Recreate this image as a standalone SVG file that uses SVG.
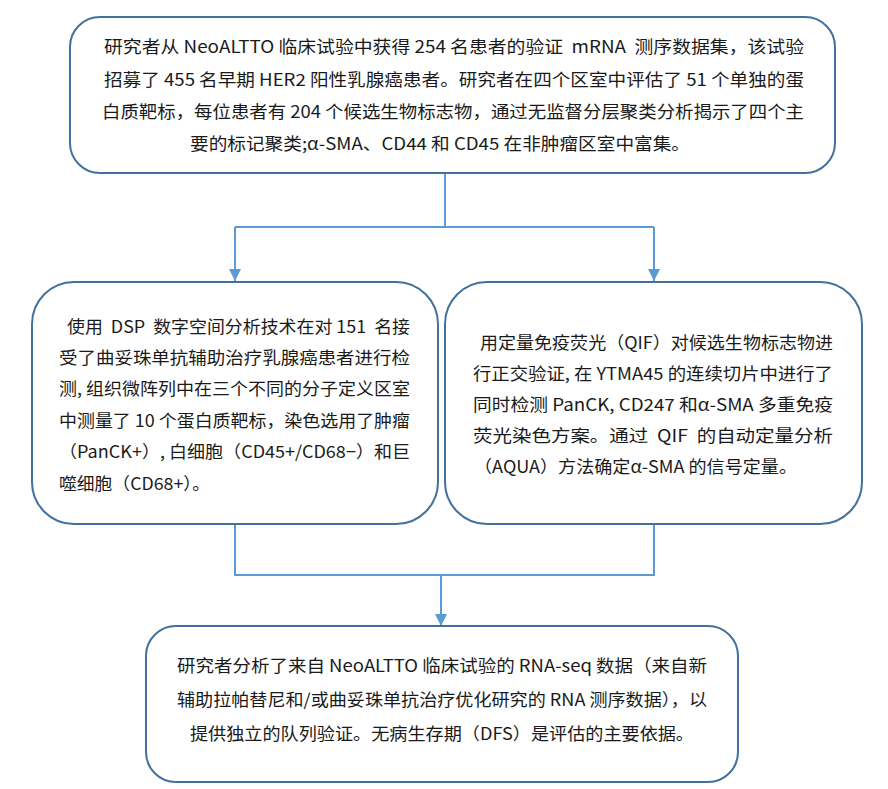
<svg xmlns="http://www.w3.org/2000/svg" width="888" height="789" viewBox="0 0 888 789">
<style>
.box{fill:#fff;stroke:#41719c;stroke-width:2}
.t{font-family:"Noto Sans CJK SC","Microsoft YaHei","Noto Sans",sans-serif;font-size:17px;fill:#1a1a1a;white-space:pre}
.c{fill:none;stroke:#5b9bd5;stroke-width:2}
</style>
<defs>
<marker id="ah" viewBox="0 0 10 10" refX="10" refY="5" markerWidth="6" markerHeight="6" orient="auto" markerUnits="strokeWidth">
<path d="M0,0 L10,5 L0,10 z" fill="#5b9bd5"/>
</marker>
</defs>
<rect width="888" height="789" fill="#fff"/>
<g id="connectors">
<polyline class="c" points="445,173 445,227"/>
<polyline class="c" points="235,227 654,227"/>
<polyline class="c" points="235,227 235,281" marker-end="url(#ah)"/>
<polyline class="c" points="654,227 654,281" marker-end="url(#ah)"/>
<polyline class="c" points="235,524 235,575 654,575 654,524"/>
<polyline class="c" points="441,575 441,626" marker-end="url(#ah)"/>
</g>
<g id="n1">
<rect class="box" x="70" y="17" width="765" height="156" rx="30"/>
<text class="t" x="104" y="53" textLength="700" lengthAdjust="spacingAndGlyphs">研究者从 NeoALTTO 临床试验中获得 254 名患者的验证&#160; mRNA&#160; 测序数据集，该试验</text>
<text class="t" x="104" y="86" textLength="700" lengthAdjust="spacingAndGlyphs">招募了 455 名早期 HER2 阳性乳腺癌患者。研究者在四个区室中评估了 51 个单独的蛋</text>
<text class="t" x="102" y="118" textLength="702" lengthAdjust="spacingAndGlyphs">白质靶标，每位患者有 204 个候选生物标志物，通过无监督分层聚类分析揭示了四个主</text>
<text class="t" x="190" y="150" textLength="500" lengthAdjust="spacingAndGlyphs">要的标记聚类;α-SMA、CD44 和 CD45 在非肿瘤区室中富集。</text>
</g>
<g id="n2">
<rect class="box" x="32" y="282" width="406" height="242" rx="42"/>
<text class="t" x="67" y="333" textLength="343" lengthAdjust="spacingAndGlyphs">使用&#160; DSP&#160; 数字空间分析技术在对 151&#160; 名接</text>
<text class="t" x="59" y="364" textLength="351" lengthAdjust="spacingAndGlyphs">受了曲妥珠单抗辅助治疗乳腺癌患者进行检</text>
<text class="t" x="59" y="395" textLength="351" lengthAdjust="spacingAndGlyphs">测, 组织微阵列中在三个不同的分子定义区室</text>
<text class="t" x="59" y="427" textLength="351" lengthAdjust="spacingAndGlyphs">中测量了 10 个蛋白质靶标，染色选用了肿瘤</text>
<text class="t" x="59" y="458" textLength="351" lengthAdjust="spacingAndGlyphs">（PanCK+）, 白细胞（CD45+/CD68−）和巨</text>
<text class="t" x="59" y="490" textLength="151" lengthAdjust="spacingAndGlyphs">噬细胞（CD68+）。</text>
</g>
<g id="n3">
<rect class="box" x="445" y="282" width="417" height="242" rx="42"/>
<text class="t" x="480" y="349" textLength="353" lengthAdjust="spacingAndGlyphs">用定量免疫荧光（QIF）对候选生物标志物进</text>
<text class="t" x="473" y="380" textLength="360" lengthAdjust="spacingAndGlyphs">行正交验证, 在 YTMA45 的连续切片中进行了</text>
<text class="t" x="473" y="411" textLength="360" lengthAdjust="spacingAndGlyphs">同时检测 PanCK, CD247 和α-SMA 多重免疫</text>
<text class="t" x="473" y="442" textLength="360" lengthAdjust="spacingAndGlyphs">荧光染色方案。通过&#160; QIF&#160; 的自动定量分析</text>
<text class="t" x="474" y="473" textLength="323" lengthAdjust="spacingAndGlyphs">（AQUA）方法确定α-SMA 的信号定量。</text>
</g>
<g id="n4">
<rect class="box" x="146" y="626" width="592" height="156" rx="30"/>
<text class="t" x="177" y="672" textLength="530" lengthAdjust="spacingAndGlyphs">研究者分析了来自 NeoALTTO 临床试验的 RNA-seq 数据（来自新</text>
<text class="t" x="177" y="706" textLength="530" lengthAdjust="spacingAndGlyphs">辅助拉帕替尼和/或曲妥珠单抗治疗优化研究的 RNA 测序数据），以</text>
<text class="t" x="190" y="740" textLength="504" lengthAdjust="spacingAndGlyphs">提供独立的队列验证。无病生存期（DFS）是评估的主要依据。</text>
</g>
</svg>
